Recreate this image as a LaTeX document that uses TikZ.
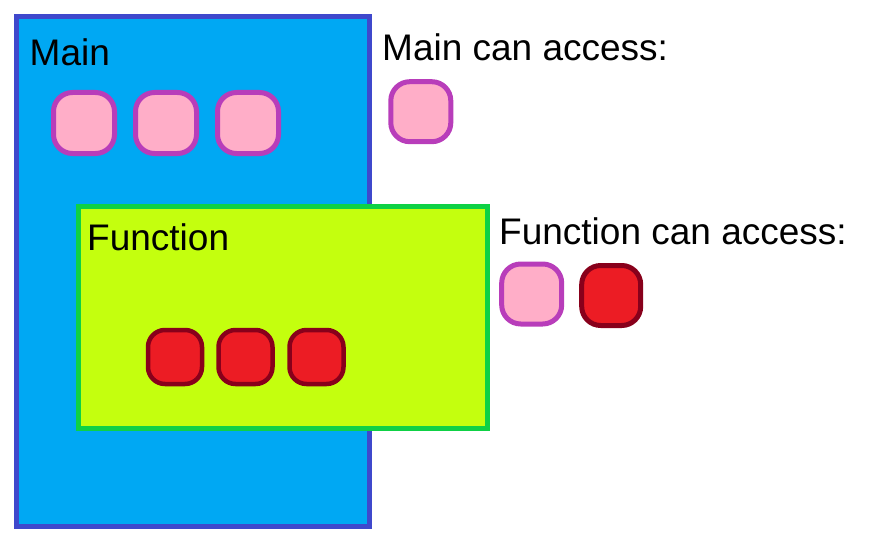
\documentclass[tikz,border=0pt]{standalone}
\usepackage{fontspec}
\setmainfont{Liberation Sans}
\definecolor{mainfill}{HTML}{00A8F3}
\definecolor{maindraw}{HTML}{3F48CC}
\definecolor{funcfill}{HTML}{C4FF0E}
\definecolor{funcdraw}{HTML}{0ED145}
\definecolor{pinkfill}{HTML}{FFAEC8}
\definecolor{pinkdraw}{HTML}{B83DBA}
\definecolor{redfill}{HTML}{EC1C24}
\definecolor{reddraw}{HTML}{88001B}
\begin{document}
\begin{tikzpicture}[x=1pt,y=-1pt,
  lbl/.style={anchor=base west,inner sep=0pt,font=\fontsize{37}{42}\selectfont},
  scopebox/.style={line width=5pt,inner sep=0pt,outer sep=0pt,anchor=north west},
  pinkvar/.style={draw=pinkdraw,fill=pinkfill,line width=5pt,rounded corners=19pt,minimum width=61pt,minimum height=61pt,inner sep=0pt},
  redvar/.style={draw=reddraw,fill=redfill,line width=4.5pt,rounded corners=17pt,minimum width=54pt,minimum height=54pt,inner sep=0pt}]
\useasboundingbox (0,0) rectangle (871,543);
% Main scope
\node[scopebox,draw=maindraw,fill=mainfill,minimum width=353pt,minimum height=510pt] (mainbox) at (16.5,16.5) {};
\node[lbl] (mainlbl) at (29.5,65.5) {Main};
\node[pinkvar] (m1) at (84,123) {};
\node[pinkvar] (m2) at (166,123) {};
\node[pinkvar] (m3) at (248,123) {};
% Function scope
\node[scopebox,draw=funcdraw,fill=funcfill,minimum width=409pt,minimum height=222pt] (funcbox) at (78.5,206.5) {};
\node[lbl] (funclbl) at (87,250) {Function};
\node[redvar] (f1) at (175,357) {};
\node[redvar] (f2) at (245.5,357) {};
\node[redvar] (f3) at (316.5,357) {};
% Access lists
\node[lbl] (mainacc) at (382,61) {Main can access:};
\node[pinkvar,minimum width=60pt,minimum height=60pt] (ma1) at (420.8,111.7) {};
\node[lbl] (funcacc) at (499,244.3) {Function can access:};
\node[pinkvar,minimum width=60pt,minimum height=60pt] (fa1) at (531.7,294) {};
\node[redvar,minimum width=59pt,minimum height=60pt,line width=5pt,rounded corners=19pt] (fa2) at (611.2,295.5) {};
\end{tikzpicture}
\end{document}
